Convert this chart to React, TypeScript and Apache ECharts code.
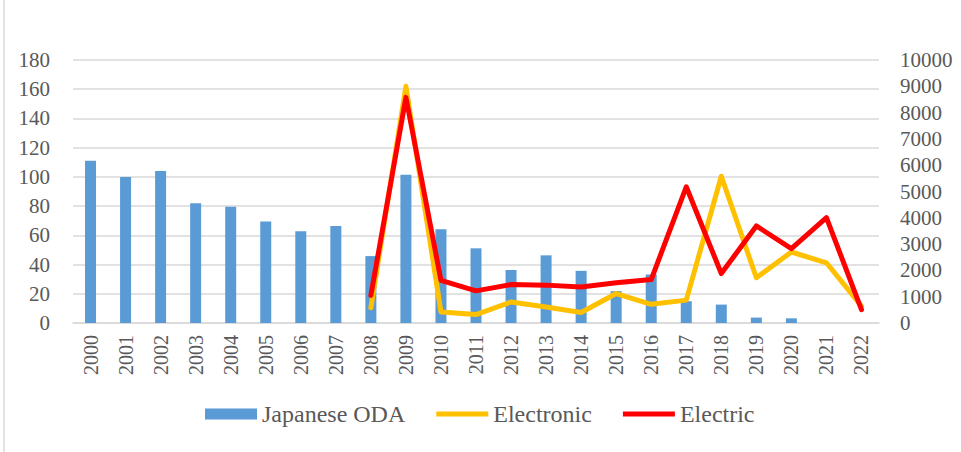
import React, { useEffect, useRef } from "react";
import * as echarts from "echarts";

const years = ["2000","2001","2002","2003","2004","2005","2006","2007","2008","2009","2010","2011","2012","2013","2014","2015","2016","2017","2018","2019","2020","2021","2022"];
const japaneseODA = [111, 100, 104, 82, 79.5, 69.4, 62.8, 66.4, 45.8, 101.4, 64.1, 51.1, 36.2, 46.3, 35.7, 21.8, 33.2, 14.9, 12.6, 3.7, 3.2, null, null];
const electronic = [null, null, null, null, null, null, null, null, 580, 9000, 420, 320, 800, 610, 400, 1120, 710, 870, 5580, 1720, 2700, 2290, 640];
const electric = [null, null, null, null, null, null, null, null, 1050, 8580, 1620, 1220, 1460, 1440, 1370, 1530, 1650, 5180, 1880, 3690, 2830, 4010, 510];
const leftTicks = { min: 0, max: 180, interval: 20 };
const rightTicks = { min: 0, max: 10000, interval: 1000 };

export default function App() {
  const ref = useRef<HTMLDivElement>(null);
  useEffect(() => {
    if (!ref.current) return;
    const chart = echarts.init(ref.current, undefined, { renderer: "svg" });
    const font = "Liberation Serif";
    const textColor = "#595959";
    const lineIcon = "path://M0,0 L52,0 L52,5 L0,5 Z";
    chart.setOption({
      animation: false,
      backgroundColor: "#ffffff",
      textStyle: { fontFamily: font },
      grid: { left: 73, right: 82, top: 60, bottom: 129, containLabel: false },
      legend: {
        left: 200,
        top: 397,
        itemWidth: 52,
        itemHeight: 11,
        itemGap: 31,
        textStyle: { fontFamily: font, fontSize: 24, color: textColor },
        data: [
          { name: "Japanese ODA", icon: "rect" },
          { name: "Electronic", icon: lineIcon, itemStyle: { color: "#FFC000" } },
          { name: "Electric", icon: lineIcon, itemStyle: { color: "#FF0000" } },
        ],
      },
      xAxis: {
        type: "category",
        data: years,
        axisTick: { show: false },
        axisLine: { lineStyle: { color: "#d9d9d9", width: 1.5 } },
        axisLabel: { rotate: 90, fontFamily: font, fontSize: 20, color: textColor, margin: 12, interval: 0 },
      },
      yAxis: [
        {
          type: "value",
          ...leftTicks,
          axisLine: { show: false },
          axisTick: { show: false },
          splitLine: { lineStyle: { color: "#d9d9d9", width: 1.5 } },
          axisLabel: { fontFamily: font, fontSize: 21, color: textColor, margin: 23 },
        },
        {
          type: "value",
          ...rightTicks,
          axisLine: { show: false },
          axisTick: { show: false },
          splitLine: { show: false },
          axisLabel: {
            fontFamily: font,
            fontSize: 21,
            color: textColor,
            margin: 21,
            formatter: (v: number) => String(v),
          },
        },
      ],
      graphic: [
        { type: "line", shape: { x1: 4, y1: 0, x2: 4, y2: 452 }, style: { stroke: "#d9d9d9", lineWidth: 1.5 } },
      ],
      series: [
        {
          name: "Japanese ODA",
          type: "bar",
          data: japaneseODA,
          barWidth: 11,
          itemStyle: { color: "#5B9BD5" },
          yAxisIndex: 0,
        },
        {
          name: "Electronic",
          type: "line",
          data: electronic,
          yAxisIndex: 1,
          symbol: "none",
          showSymbol: false,
          lineStyle: { color: "#FFC000", width: 5, cap: "round", join: "round" },
          itemStyle: { color: "#FFC000" },
        },
        {
          name: "Electric",
          type: "line",
          data: electric,
          yAxisIndex: 1,
          symbol: "none",
          showSymbol: false,
          lineStyle: { color: "#FF0000", width: 5, cap: "round", join: "round" },
          itemStyle: { color: "#FF0000" },
        },
      ],
    });
    return () => chart.dispose();
  }, []);
  return (
    <div
      ref={ref}
      style={{ position: "fixed", left: 0, top: 0, width: 961, height: 452 }}
    />
  );
}
